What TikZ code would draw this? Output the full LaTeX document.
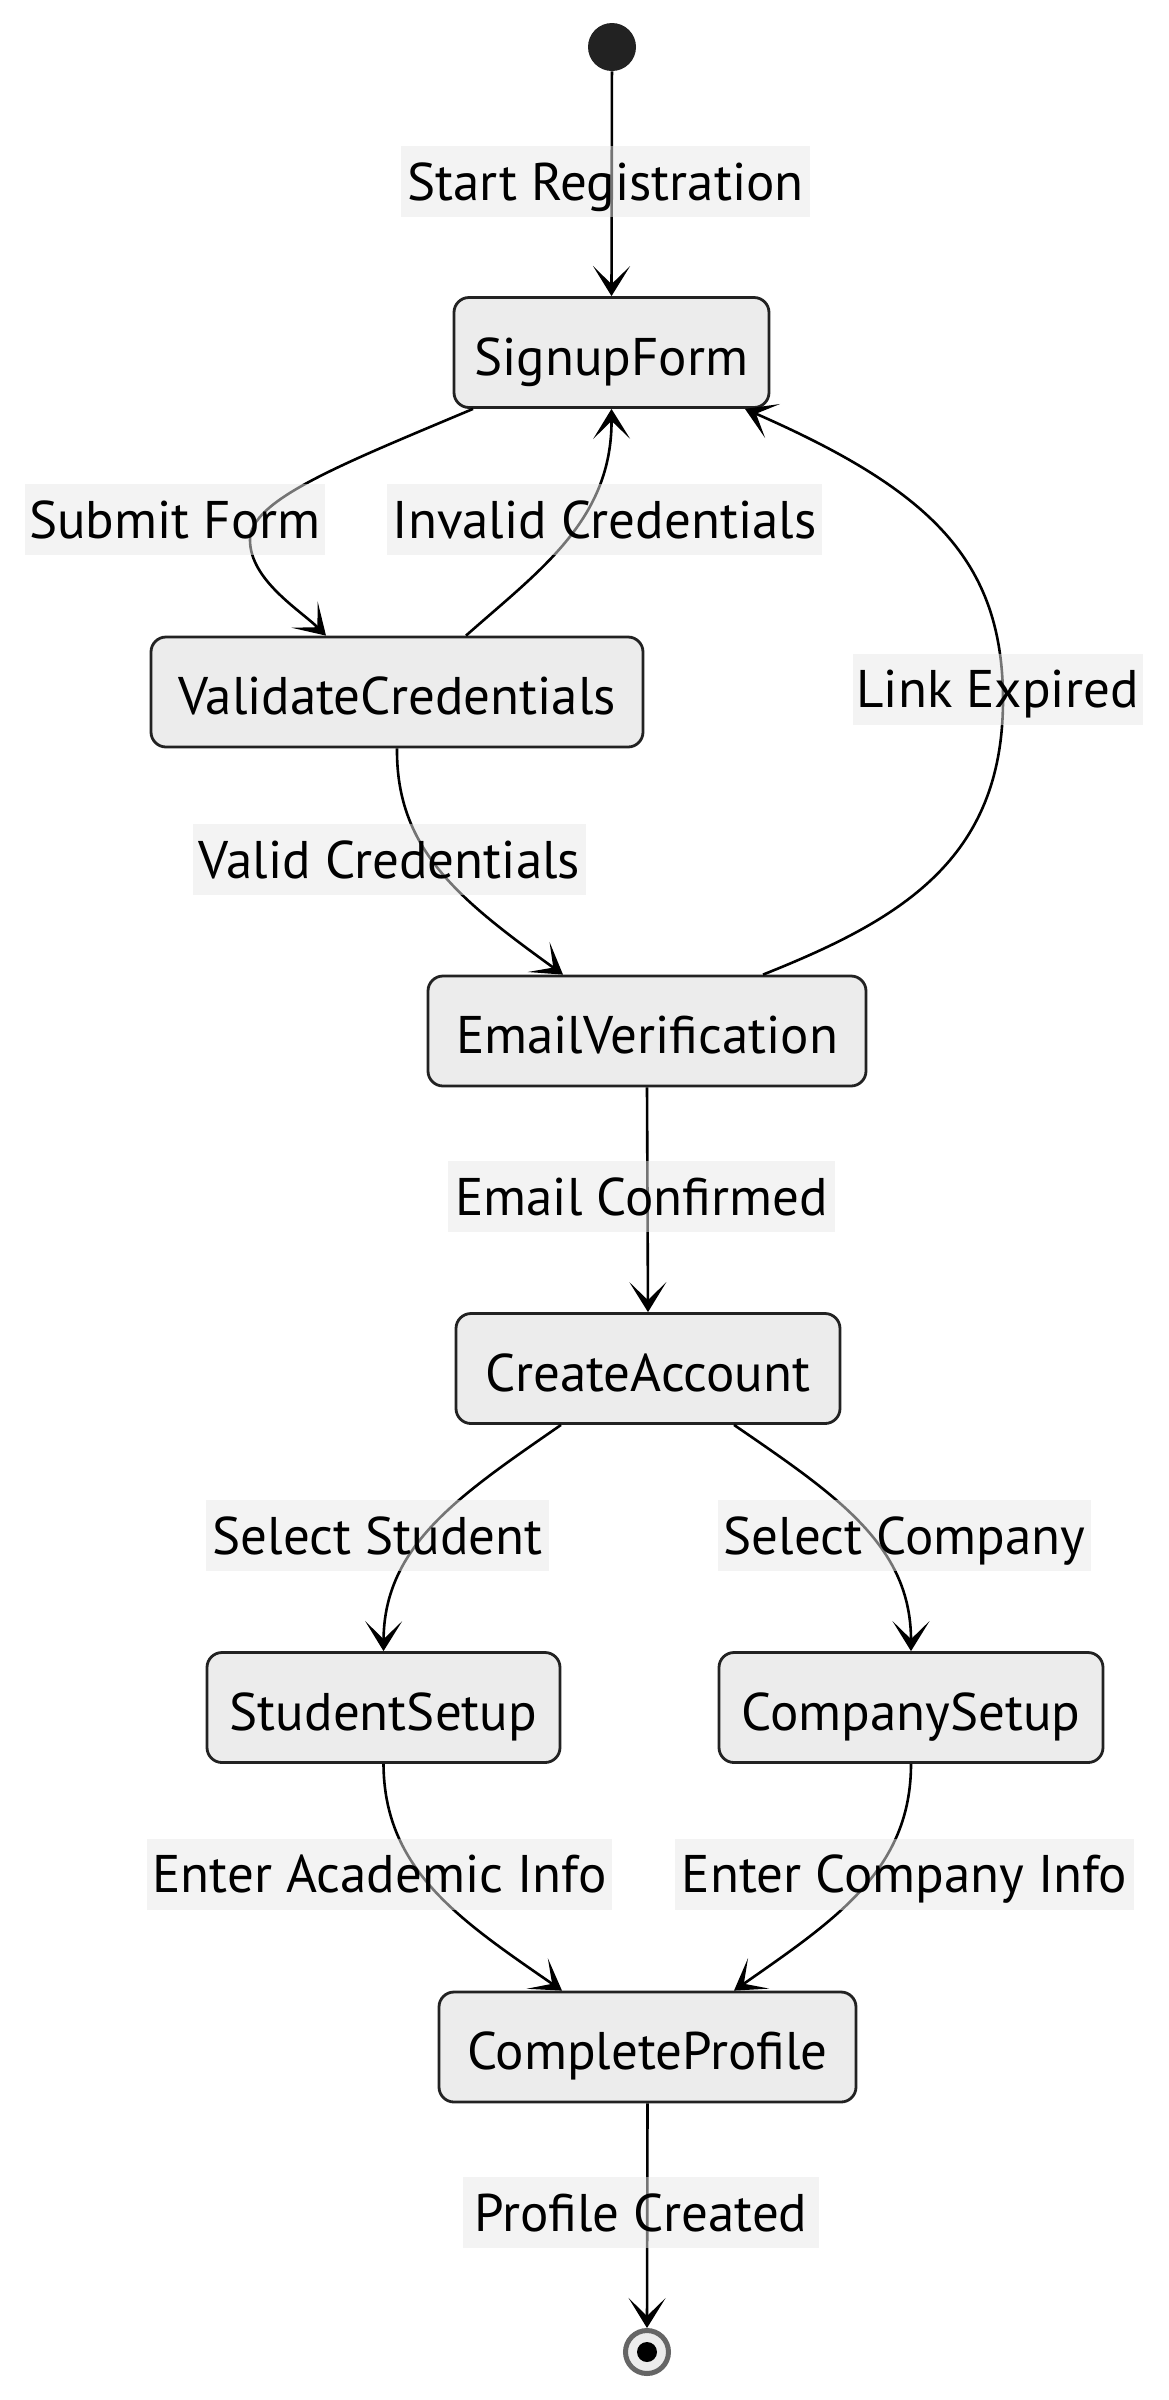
\documentclass[tikz,border=0pt]{standalone}
\usepackage{fontspec}
\setmainfont{PT Sans}
\usetikzlibrary{arrows.meta}
\definecolor{boxfill}{HTML}{ECECEC}
\definecolor{boxline}{HTML}{222222}
\definecolor{lblfill}{HTML}{E8E8E8}
\definecolor{endring}{HTML}{666666}
\definecolor{startfill}{HTML}{222222}
\begin{document}
\begin{tikzpicture}[x=0.5pt,y=-0.5pt,
  txt/.style={font=\fontsize{26.5}{31}\selectfont},
  stbox/.style={txt,draw=boxline,line width=1.4pt,fill=boxfill,rounded corners=7.5pt,minimum height=55pt,inner sep=0pt,text height=22.5pt,text depth=0pt},
  lbl/.style={txt,fill=lblfill,fill opacity=0.5,text opacity=1,minimum height=35.5pt,inner sep=0pt,text height=18.5pt,text depth=0pt},
  conn/.style={line width=1.3pt,-{Stealth[length=15pt,width=18.5pt,inset=9pt]}},
  startst/.style={circle,fill=startfill,minimum size=24pt,inner sep=0pt},
  endst/.style={circle,draw=endring,line width=2.5pt,fill=boxfill,minimum size=21.5pt,inner sep=0pt}]
\useasboundingbox (0,0) rectangle (1168,2400);
\fill[white] (0,0) rectangle (1168,2400);
% states
\node[startst] (start) at (612,47) {};
\node[stbox,minimum width=157.5pt] (signup) at (611.5,352.5) {SignupForm};
\node[stbox,minimum width=246pt] (validate) at (397,692) {ValidateCredentials};
\node[stbox,minimum width=219pt] (email) at (647,1031) {EmailVerification};
\node[stbox,minimum width=192pt] (create) at (648,1368.5) {CreateAccount};
\node[stbox,minimum width=176.5pt] (student) at (383.5,1707.5) {StudentSetup};
\node[stbox,minimum width=192pt] (company) at (911,1707.5) {CompanySetup};
\node[stbox,minimum width=208.5pt] (complete) at (647.5,2047) {CompleteProfile};
\node[endst] (end) at (647,2352) {};
\fill[black] (end.center) circle (5pt);
% connectors
\draw[conn] (start) -- (signup.north);
\draw[conn] ([xshift=-69.25pt]signup.south) .. controls (340,465) and (250,500) .. (250,540)
   .. controls (250,580) and (300,610) .. ([xshift=-35.5pt]validate.north);
\draw[conn] ([xshift=34.5pt]validate.north) .. controls (540,570) and (612,520) .. (signup.south);
\draw[conn] (validate.south) .. controls (396,850) and (460,900) .. ([xshift=-42pt]email.north);
\draw[conn] ([xshift=58pt]email.north) .. controls (900,920) and (1003,860) .. (1003,700)
   .. controls (1003,560) and (930,490) .. ([xshift=66.75pt]signup.south);
\draw[conn] (email.south) -- (create.north);
\draw[conn] ([xshift=-43.5pt]create.south) .. controls (460,1495) and (384,1545) .. (student.north);
\draw[conn] ([xshift=43pt]create.south) .. controls (836,1495) and (911,1545) .. (company.north);
\draw[conn] (student.south) .. controls (384,1870) and (460,1920) .. ([xshift=-42.75pt]complete.north);
\draw[conn] (company.south) .. controls (911,1870) and (835,1920) .. ([xshift=43.25pt]complete.north);
\draw[conn] (complete.south) -- (end.north);
% labels
\node[lbl,minimum width=204.5pt] (l1) at (605.5,181.5) {Start Registration};
\node[lbl,minimum width=150pt] (l2) at (175,519.5) {Submit Form};
\node[lbl,minimum width=217.5pt] (l3) at (604.5,519.5) {Invalid Credentials};
\node[lbl,minimum width=145pt] (l4) at (997.5,689) {Link Expired};
\node[lbl,minimum width=196.5pt] (l5) at (389.5,859.5) {Valid Credentials};
\node[lbl,minimum width=193.5pt] (l6) at (641.5,1196.5) {Email Confirmed};
\node[lbl,minimum width=171.5pt] (l7) at (377.5,1535.5) {Select Student};
\node[lbl,minimum width=186.5pt] (l8) at (904.5,1535.5) {Select Company};
\node[lbl,minimum width=232.5pt] (l9) at (379.5,1874) {Enter Academic Info};
\node[lbl,minimum width=229.5pt] (l10) at (904.5,1874) {Enter Company Info};
\node[lbl,minimum width=178pt] (l11) at (641,2212.5) {Profile Created};
\end{tikzpicture}
\end{document}
